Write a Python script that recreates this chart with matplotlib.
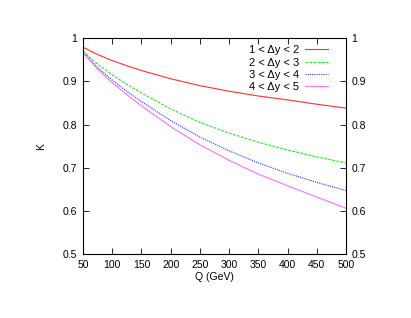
import matplotlib
matplotlib.use("Agg")
import matplotlib.pyplot as plt
from matplotlib.ticker import FixedLocator, FuncFormatter

plt.rcParams['font.family'] = ['Liberation Sans', 'DejaVu Sans']
plt.rcParams['font.size'] = 7.5

# data
q = [50, 75, 100, 125, 150, 200, 250, 300, 350, 400, 450, 500]
k_12 = [0.979, 0.962, 0.948, 0.936, 0.925, 0.906, 0.890, 0.877, 0.866, 0.857, 0.847, 0.838]
k_23 = [0.970, 0.940, 0.915, 0.893, 0.873, 0.836, 0.805, 0.780, 0.759, 0.741, 0.725, 0.711]
k_34 = [0.968, 0.932, 0.903, 0.877, 0.853, 0.809, 0.771, 0.739, 0.711, 0.687, 0.666, 0.647]
k_45 = [0.966, 0.928, 0.897, 0.869, 0.843, 0.795, 0.753, 0.717, 0.685, 0.658, 0.632, 0.606]
labels = ["1 < \u0394y < 2", "2 < \u0394y < 3", "3 < \u0394y < 4", "4 < \u0394y < 5"]

fig = plt.figure(figsize=(4.11, 3.18), dpi=100)
ax = fig.add_axes([0.202, 0.201, 0.640, 0.679])

ax.plot(q, k_12, color='#ff3030', lw=0.8, ls='-', label=labels[0])
ax.plot(q, k_23, color='#30e030', lw=0.8, ls=(0, (2.5, 1.2)), label=labels[1])
ax.plot(q, k_34, color='#3030ff', lw=0.8, ls=(0, (1, 1)), label=labels[2])
ax.plot(q, k_45, color='#ff70ff', lw=0.8, ls='-', label=labels[3])

ax.set_xlim(50, 500)
ax.set_ylim(0.5, 1.0)
ax.xaxis.set_major_locator(FixedLocator(range(50, 501, 50)))
ax.yaxis.set_major_locator(FixedLocator([0.5, 0.6, 0.7, 0.8, 0.9, 1.0]))
ax.yaxis.set_major_formatter(FuncFormatter(lambda v, p: "%g" % v))
ax.tick_params(direction='in', length=4, width=0.6, top=True, right=True,
               labelright=True, pad=4)
for s in ax.spines.values():
    s.set_linewidth(0.8)

ax.set_xlabel("Q (GeV)", labelpad=2)
ax.set_ylabel("K", labelpad=12)

ax.legend(loc='upper right', bbox_to_anchor=(0.96, 1.0), frameon=False,
          markerfirst=False, handlelength=2.1, handletextpad=0.5,
          labelspacing=0.2, borderaxespad=0.25, fontsize=8)

fig.savefig("out.png", dpi=100)
